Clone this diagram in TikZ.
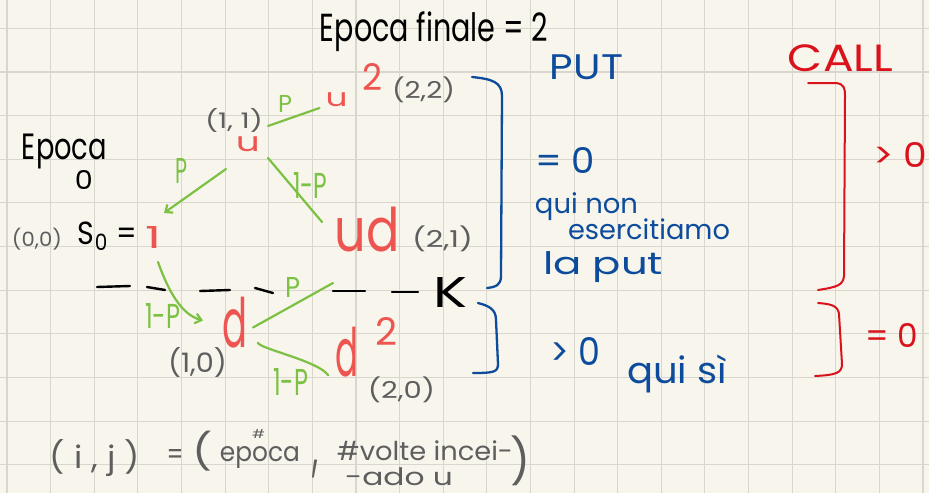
\documentclass[tikz,border=0pt]{standalone}
\usepackage{fontspec}
\setmainfont{Poppins}
\usepackage{graphicx}
\usetikzlibrary{arrows.meta}
\definecolor{bgc}{HTML}{F7F5EC}
\definecolor{gridc}{HTML}{D9D7CD}
\definecolor{redn}{HTML}{EE5550}
\definecolor{greenc}{HTML}{7CC144}
\definecolor{grayc}{HTML}{5E5E5E}
\definecolor{bluec}{HTML}{0D4C9C}
\definecolor{callred}{HTML}{D9121B}
\newcommand\hw[3]{\resizebox*{#1pt}{#2pt}{#3}}
\begin{document}
\begin{tikzpicture}[x=1pt,y=-1pt,
  every node/.style={inner sep=0pt,outer sep=0pt},
  gridline/.style={draw=gridc,line width=1.1pt},
  gline/.style={draw=greenc,line width=2.2pt,line cap=round},
  bline/.style={draw=bluec,line width=2.3pt,line cap=round,line join=round},
  rline/.style={draw=callred,line width=2pt,line cap=round,line join=round},
  dashseg/.style={draw=black,line width=2.4pt,line cap=round},
  barb/.style={-{Straight Barb[length=6pt,width=10pt]}}]
\fill[bgc] (0,0) rectangle (929,493);
\useasboundingbox (0,0) rectangle (929,493);
\foreach \i in {0,...,21} \draw[gridline] ({7+43.62*\i},0) -- ({7+43.62*\i},493);
\foreach \j in {0,...,10} \draw[gridline] (0,{28.3+43.65*\j}) -- (929,{28.3+43.65*\j});

% black texts
\node[text=black] (title) at (434,32) {\hw{228}{40}{Epoca finale = 2}};
\node[text=black] (ep0) at (64.5,151) {\hw{85}{35}{Epoca}};
\node[text=black] (zero) at (84,180) {\hw{18}{19}{0}};
\node[text=black] (s0eq) at (107.5,236) {\hw{59}{28}{S\textsubscript{0} =}};
\node[text=black] (K) at (450,292) {\hw{34}{30}{K}};

% gray labels
\node[text=grayc] (s0lab) at (37,239) {\hw{50}{22}{(0,0)}};
\node[text=grayc] (u11lab) at (234,120) {\hw{58}{24}{(1, 1)}};
\node[text=grayc] (uulab) at (423.5,90) {\hw{63}{26}{(2,2)}};
\node[text=grayc] (udlab) at (442.5,239) {\hw{61}{26}{(2,1)}};
\node[text=grayc] (d10lab) at (197.5,362) {\hw{59}{30}{(1,0)}};
\node[text=grayc] (d20lab) at (401.5,390) {\hw{67}{26}{(2,0)}};

% red tree nodes
\node[text=redn] (s0) at (154,237) {\hw{16}{22}{1}};
\node[text=redn] (u11) at (248,144.5) {\hw{24}{15}{u}};
\node[text=redn] (uu) at (336.5,100) {\hw{22}{14}{u}};
\node[text=redn] (uusup) at (372,76.5) {\hw{20}{27}{2}};
\node[text=redn] (ud) at (367.5,229.5) {\hw{65}{45}{ud}};
\node[text=redn] (d10) at (234.5,322.5) {\hw{25}{51}{d}};
\node[text=redn] (d20) at (346.5,352) {\hw{23}{50}{d}};
\node[text=redn] (d20sup) at (386,331) {\hw{22}{28}{2}};

% green labels
\node[text=greenc] (pA) at (285,103.5) {\hw{14}{17}{P}};
\node[text=greenc] (pB) at (181,170.5) {\hw{12}{25}{P}};
\node[text=greenc] (qA) at (310,185) {\hw{34}{26}{1-P}};
\node[text=greenc] (qB) at (162.5,315.5) {\hw{35}{25}{1-P}};
\node[text=greenc] (pC) at (292.5,287) {\hw{15}{20}{P}};
\node[text=greenc] (qC) at (290.5,381.5) {\hw{35}{27}{1-P}};

% green edges
\draw[gline] ([shift={(8,-11)}]u11.north east) -- ([shift={(-6,1)}]uu.south west);
\draw[gline,barb] ([shift={(-10,17)}]u11.south west) -- ([shift={(2,-13)}]s0.north east);
\draw[gline] ([shift={(8,6)}]u11.south east) -- ([shift={(-13,15)}]ud.north west);
\draw[gline,barb] ([shift={(4,14)}]s0.south) .. controls +(10,28) and +(-22,-6) .. ([shift={(-19,-2)}]d10.west);
\draw[gline] ([shift={(6,5)}]d10.east) -- ([shift={(-2,31)}]ud.south west);
\draw[gline] ([shift={(11,-5)}]d10.south east) .. controls +(3,6) and +(-10,-14) .. ([shift={(-7,23)}]d20.west);

% dashed line
\draw[dashseg] (97,287) -- (130,286);
\draw[dashseg] (147,287) -- (165,290);
\draw[dashseg] (200,291) -- (230,290);
\draw[dashseg] (255,288) -- (273,293);
\draw[dashseg] (333,291) -- (365,291);
\draw[dashseg] (392,292) -- (418,292);

% bottom formula
\node[text=grayc] (ij) at (95,458.5) {\hw{90}{37}{( i , j )}};
\node[text=grayc] (eqg) at (175,456.5) {\hw{17}{15}{=}};
\node[text=grayc] (lpar) at (202.5,451) {\hw{20}{40}{(}};
\node[text=grayc] (hashA) at (258.5,434) {\hw{13}{9}{\#}};
\node[text=grayc] (epoca2) at (260,457) {\hw{80}{22}{epoca}};
\node[text=grayc] (comma) at (315,469) {\hw{6}{18}{,}};
\node[text=grayc] (volte) at (425,451) {\hw{176}{20}{\#volte incei-}};
\node[text=grayc] (ado) at (399,477) {\hw{108}{18}{-ado u}};
\node[text=grayc] (rpar) at (520,461) {\hw{20}{50}{)}};

% blue PUT
\node[text=bluec] (put) at (586.5,67.5) {\hw{73}{25}{PUT}};
\node[text=bluec] (beq) at (565,160) {\hw{60}{26}{= 0}};
\node[text=bluec] (quinon) at (586.5,207) {\hw{103}{28}{qui non}};
\node[text=bluec] (eserc) at (649,229.5) {\hw{162}{21}{esercitiamo}};
\node[text=bluec] (laput) at (603,267.5) {\hw{120}{31}{la put}};
\node[text=bluec] (bgt) at (575,351) {\hw{50}{28}{> 0}};
\node[text=bluec] (quisi) at (677,374) {\hw{100}{38}{qui sì}};
\draw[bline] (472,77) .. controls (492,79) and (502,82) .. (502,96) -- (501,276) .. controls (501,285) and (496,287) .. (487,288);
\draw[bline] (478,303) .. controls (490,306) and (496,310) .. (496,320) -- (498,364) .. controls (498,372) and (494,373) .. (473,373);

% red CALL
\node[text=callred] (call) at (840.5,58.5) {\hw{105}{27}{CALL}};
\node[text=callred] (rgt) at (900,154.5) {\hw{54}{25}{> 0}};
\node[text=callred] (req) at (891.5,335) {\hw{53}{24}{= 0}};
\draw[rline] (808,83) -- (836,83) .. controls (844,84) and (845,88) .. (845,96) -- (844,276) .. controls (843,285) and (838,287) .. (818,290);
\draw[rline] (818,303) .. controls (832,304) and (838,306) .. (839,314) -- (842,364) .. controls (842,373) and (836,375) .. (815,376);
\end{tikzpicture}
\end{document}
